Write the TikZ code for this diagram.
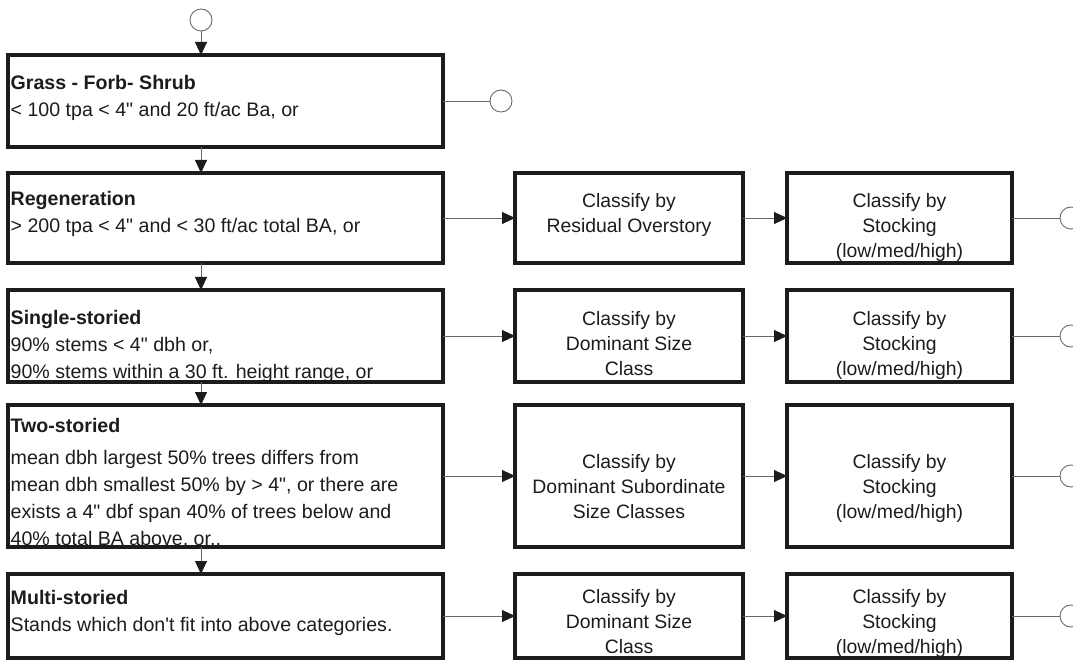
\documentclass[tikz,border=0pt]{standalone}
\usepackage{fontspec}
\setmainfont{Liberation Sans}[Ligatures=TeXOff]
\usetikzlibrary{arrows.meta,calc}
\definecolor{ink}{HTML}{1C1C1C}
\definecolor{wire}{HTML}{6A6A6A}
% fixed height of the first text line, so that baselines sit at known offsets
\newcommand\capline{\rule{0pt}{15pt}}
% straight inch mark and apostrophe
\newcommand\inch{\char"22\relax}
\newcommand\apos{\char"27\relax}
\begin{document}
\begin{tikzpicture}[x=1pt,y=-1pt,
  frame/.style={draw=ink, line width=3.2pt, rectangle, inner sep=0pt, outer sep=0pt,
                anchor=north west},
  cond/.style={anchor=north west, align=left, inner sep=0pt, text=ink,
               font=\fontsize{19.6}{27}\selectfont},
  cls/.style={anchor=north, align=center, inner sep=0pt, text=ink,
              font=\fontsize{19.4}{25}\selectfont},
  flow/.style={draw=wire, line width=0.9pt,
               -{Triangle[length=13pt,width=12pt,color=ink,fill=ink]}},
  link/.style={draw=wire, line width=0.9pt},
  term/.style={circle, draw=wire, line width=0.9pt, minimum size=22pt, inner sep=0pt},
]
\useasboundingbox (0,0) rectangle (1073,660);

% ---- stand structure classes (left column)
\node[frame, minimum width=435pt, minimum height=92pt]  (grass) at (8,55)  {};
\node[frame, minimum width=435pt, minimum height=90pt]  (regen) at (8,173) {};
\node[frame, minimum width=435pt, minimum height=92pt]  (single) at (8,290) {};
\node[frame, minimum width=435pt, minimum height=142pt] (two) at (8,405) {};
\node[frame, minimum width=435pt, minimum height=84pt]  (multi) at (8,574) {};

\node[cond] (grasstext) at ($(grass.north west)+(2.5,19)$)
  {\capline\textbf{Grass - Forb- Shrub}\\< 100 tpa < 4\inch{} and 20 ft/ac Ba, or};
\node[cond] (regentext) at ($(regen.north west)+(2.5,17)$)
  {\capline\textbf{Regeneration}\\> 200 tpa < 4\inch{} and < 30 ft/ac total BA, or};
\node[cond] (singletext) at ($(single.north west)+(2.5,19)$)
  {\capline\textbf{Single-storied}\\90\% stems < 4\inch{} dbh or,\\90\% stems within a 30 ft. height range, or};
\node[cond] (twotext) at ($(two.north west)+(2.5,12)$)
  {\capline\textbf{Two-storied}\\[5pt]mean dbh largest 50\% trees differs from\\mean dbh smallest 50\% by > 4\inch, or there are\\exists a 4\inch{} dbf span 40\% of trees below and\\40\% total BA above, or..};
\node[cond] (multitext) at ($(multi.north west)+(2.5,15)$)
  {\capline\textbf{Multi-storied}\\Stands which don\apos t fit into above categories.};

% ---- secondary classification (middle column)
\node[frame, minimum width=228pt, minimum height=90pt]  (regmid) at (515,173) {};
\node[frame, minimum width=228pt, minimum height=92pt]  (singlemid) at (515,290) {};
\node[frame, minimum width=228pt, minimum height=142pt] (twomid) at (515,405) {};
\node[frame, minimum width=228pt, minimum height=84pt]  (multimid) at (515,574) {};

\node[cls] (regmidtext) at ($(regmid.north)+(0,19)$)
  {\capline Classify by\\Residual Overstory};
\node[cls] (singlemidtext) at ($(singlemid.north)+(0,20)$)
  {\capline Classify by\\Dominant Size\\Class};
\node[cls] (twomidtext) at ($(twomid.north)+(0,48)$)
  {\capline Classify by\\Dominant Subordinate\\Size Classes};
\node[cls] (multimidtext) at ($(multimid.north)+(0,14)$)
  {\capline Classify by\\Dominant Size\\Class};

% ---- stocking classification (right column)
\node[frame, minimum width=225pt, minimum height=90pt]  (regstk) at (787,173) {};
\node[frame, minimum width=225pt, minimum height=92pt]  (singlestk) at (787,290) {};
\node[frame, minimum width=225pt, minimum height=142pt] (twostk) at (787,405) {};
\node[frame, minimum width=225pt, minimum height=84pt]  (multistk) at (787,574) {};

\node[cls] (regstktext) at ($(regstk.north)+(0,19)$)
  {\capline Classify by\\Stocking\\(low/med/high)};
\node[cls] (singlestktext) at ($(singlestk.north)+(0,20)$)
  {\capline Classify by\\Stocking\\(low/med/high)};
\node[cls] (twostktext) at ($(twostk.north)+(0,48)$)
  {\capline Classify by\\Stocking\\(low/med/high)};
\node[cls] (multistktext) at ($(multistk.north)+(0,14)$)
  {\capline Classify by\\Stocking\\(low/med/high)};

% ---- terminals
\node[term] (start) at (201,20) {};
\node[term] (endgrass) at (501,101) {};
\node[term] (endregen) at (1071,218) {};
\node[term] (endsingle) at (1071,336) {};
\node[term] (endtwo) at (1071,476) {};
\node[term] (endmulti) at (1071,616) {};

% ---- main sequence
\draw[flow] (start) -- (start |- grass.north);
\draw[flow] (start |- grass.south) -- (start |- regen.north);
\draw[flow] (start |- regen.south) -- (start |- single.north);
\draw[flow] (start |- single.south) -- (start |- two.north);
\draw[flow] (start |- two.south) -- (start |- multi.north);
\draw[link] (grass.east) -- (endgrass);

% ---- branches
\draw[flow] (regen.east) -- (regmid.west);
\draw[flow] (regmid.east) -- (regstk.west);
\draw[link] (regstk.east) -- (endregen);

\draw[flow] (single.east) -- (singlemid.west);
\draw[flow] (singlemid.east) -- (singlestk.west);
\draw[link] (singlestk.east) -- (endsingle);

\draw[flow] (two.east) -- (twomid.west);
\draw[flow] (twomid.east) -- (twostk.west);
\draw[link] (twostk.east) -- (endtwo);

\draw[flow] (multi.east) -- (multimid.west);
\draw[flow] (multimid.east) -- (multistk.west);
\draw[link] (multistk.east) -- (endmulti);
\end{tikzpicture}
\end{document}
